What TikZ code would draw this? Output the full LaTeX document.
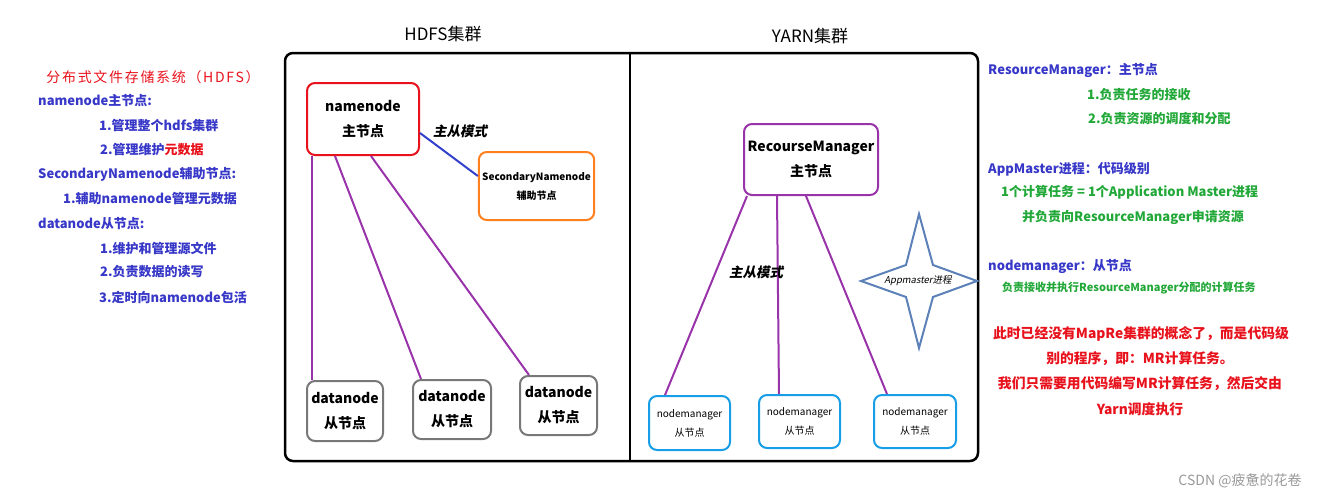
\documentclass[tikz,border=0pt]{standalone}
\usepackage{fontspec}
\setmainfont{Noto Sans CJK SC}[AutoFakeSlant=0.2]
\newfontfamily\slantfont{Noto Sans CJK SC}[FakeSlant=0.2]
\usepackage{xcolor}
\usetikzlibrary{calc}

\definecolor{txtblue}{RGB}{55,55,200}
\definecolor{txtgreen}{RGB}{34,168,56}
\definecolor{txtred}{RGB}{232,18,28}
\definecolor{linkpurple}{RGB}{153,51,170}
\definecolor{linkblue}{RGB}{50,64,204}
\definecolor{snnorange}{RGB}{255,128,30}
\definecolor{nmblue}{RGB}{24,158,230}
\definecolor{dngray}{RGB}{120,120,120}
\definecolor{starblue}{RGB}{92,128,184}

\begin{document}
\begin{tikzpicture}[x=1pt,y=-1pt]
    \tikzstyle{box} = [rectangle, rounded corners=8pt, line width=2pt,
                       align=center, fill=white]
    \tikzstyle{bigtxt} = [font=\bfseries\fontsize{14}{25}\selectfont]
    \tikzstyle{smalltxt} = [font=\fontsize{10}{19}\selectfont]
    \tikzstyle{link} = [line width=2pt, color=linkpurple]
    \tikzstyle{note} = [anchor=west, inner sep=0pt, font=\bfseries\fontsize{13}{16}\selectfont]
    \tikzstyle{title} = [font=\fontsize{17}{20}\selectfont]
    \tikzstyle{mslabel} = [font=\slantfont\bfseries\fontsize{13.5}{16}\selectfont]

    \useasboundingbox (0,0) rectangle (1341,501);

    % cluster frame
    \node (hdfstitle) [title] at (443,34) {HDFS集群};
    \node (yarntitle) [title] at (810,36) {YARN集群};
    \draw[line width=2.5pt, rounded corners=8pt] (285,53) rectangle (978,461);
    \coordinate (divtop) at (630,53);
    \coordinate (divbot) at (630,461);
    \draw[line width=2pt] (divtop) -- (divbot);

    % HDFS
    \node (namenode) [box, bigtxt, draw=txtred, minimum width=112pt, minimum height=72pt]
          at (363,119) {namenode\\主节点};
    \node (secnn) [box, draw=snnorange, minimum width=111pt, minimum height=68pt,
                   font=\bfseries\fontsize{10}{19}\selectfont]
          at (536.5,186) {SecondaryNamenode\\辅助节点};
    \node (dn1) [box, bigtxt, draw=dngray, minimum width=76pt, minimum height=60pt] at (345,411) {datanode\\从节点};
    \node (dn2) [box, bigtxt, draw=dngray, minimum width=78pt, minimum height=59pt] at (452,409.5) {datanode\\从节点};
    \node (dn3) [box, bigtxt, draw=dngray, minimum width=77pt, minimum height=59pt] at (558.5,405.5) {datanode\\从节点};

    \draw[line width=2pt, color=linkblue] ($(namenode.east)+(0,14)$) -- ($(secnn.west)+(0,-10)$);
    \node (hdfsms) [mslabel] at (460,131) {主从模式};

    \draw[link] ($(namenode.south west)+(6,0)$)  -- ($(dn1.north west)+(6,0)$);
    \draw[link] ($(namenode.south west)+(29,0)$) -- ($(dn2.north west)+(9,0)$);
    \draw[link] ($(namenode.south west)+(65,0)$) -- ($(dn3.north west)+(10,0)$);

    % YARN
    \node (rm) [box, bigtxt, draw=linkpurple, minimum width=134pt, minimum height=71pt]
          at (811,159.5) {RecourseManager\\主节点};
    \node (nm1) [box, smalltxt, draw=nmblue, minimum width=81pt, minimum height=54pt] at (689.5,423) {nodemanager\\从节点};
    \node (nm2) [box, smalltxt, draw=nmblue, minimum width=81pt, minimum height=53pt] at (799.5,421.5) {nodemanager\\从节点};
    \node (nm3) [box, smalltxt, draw=nmblue, minimum width=82pt, minimum height=53pt] at (915,421.5) {nodemanager\\从节点};

    \draw[link] ($(rm.south west)+(4,0)$)  -- ($(nm1.north west)+(17,0)$);
    \draw[link] ($(rm.south west)+(34,0)$) -- ($(nm2.north west)+(21,0)$);
    \draw[link] ($(rm.south west)+(63,0)$) -- ($(nm3.north west)+(14,0)$);
    \node (yarnms) [mslabel] at (756,272) {主从模式};

    \draw[line width=2pt, color=starblue, line join=miter]
        (919,214) -- (933,265) -- (977,281) -- (933,297) -- (919,348)
        -- (906,297) -- (861,281) -- (906,265) -- cycle;
    \node (appmaster) [font=\slantfont\fontsize{9.5}{11}\selectfont] at (918,281) {Appmaster进程};

    % left notes
    \node (hdfsname) [font=\fontsize{14}{16}\selectfont\addfontfeature{LetterSpace=12}, text=txtred]
          at (153,77) {分布式文件存储系统（HDFS）};
    \node (l1) [note, text=txtblue] at (38,101) {namenode主节点:};
    \node (l2) [note, text=txtblue] at (99,126) {1.管理整个hdfs集群};
    \node (l3) [note, text=txtblue] at (100,150) {2.管理维护\textcolor{txtred}{元数据}};
    \node (l4) [note, text=txtblue] at (38,174) {SecondaryNamenode辅助节点:};
    \node (l5) [note, text=txtblue] at (63,199) {1.辅助namenode管理元数据};
    \node (l6) [note, text=txtblue] at (38,224) {datanode从节点:};
    \node (l7) [note, text=txtblue] at (100,248) {1.维护和管理源文件};
    \node (l8) [note, text=txtblue] at (100,272) {2.负责数据的读写};
    \node (l9) [note, text=txtblue] at (99,297) {3.定时向namenode包活};

    % right notes
    \node (r1) [note, text=txtblue]  at (988,70)   {ResourceManager：主节点};
    \node (r2) [note, text=txtgreen] at (1087,95)  {1.负责任务的接收};
    \node (r3) [note, text=txtgreen] at (1088,119) {2.负责资源的调度和分配};
    \node (r4) [note, text=txtblue]  at (988,169)  {AppMaster进程：代码级别};
    \node (r5) [note, text=txtgreen] at (1001,192) {1个计算任务 = 1个Application Master进程};
    \node (r6) [note, text=txtgreen] at (1022,217) {并负责向ResourceManager申请资源};
    \node (r7) [note, text=txtblue]  at (988,266)  {nodemanager：从节点};
    \node (r8) [note, text=txtgreen, font=\bfseries\fontsize{11}{13}\selectfont]
          at (1002,288) {负责接收并执行ResourceManager分配的计算任务};
    \tikzstyle{rednote} = [note, anchor=center, text=txtred, font=\bfseries\fontsize{13.8}{16}\selectfont]
    \node (r9)  [rednote] at (1141,334) {此时已经没有MapRe集群的概念了，而是代码级};
    \node (r10) [rednote] at (1140,359) {别的程序，即：MR计算任务。};
    \node (r11) [rednote] at (1140,384) {我们只需要用代码编写MR计算任务，然后交由};
    \node (r12) [rednote] at (1140,409) {Yarn调度执行};

    \node (mark) [text=black!40, font=\fontsize{14}{16}\selectfont] at (1240,481) {CSDN @疲惫的花卷};
\end{tikzpicture}
\end{document}
